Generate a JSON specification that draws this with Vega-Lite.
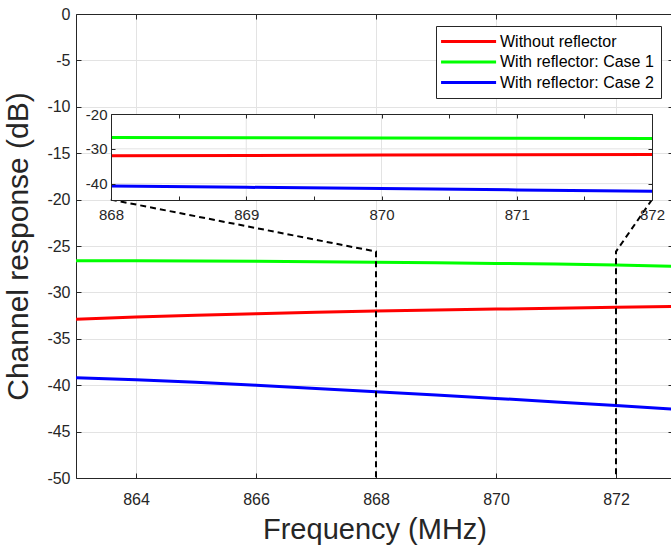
{
  "$schema": "https://vega.github.io/schema/vega-lite/v6.json",
  "width": 597,
  "height": 464,
  "autosize": {"type": "none"},
  "padding": {"left": 76, "top": 14, "right": 0, "bottom": 70},
  "background": "white",
  "datasets": {
    "main": [
      {"s": "Without reflector", "f": 863, "v": -32.9},
      {"s": "Without reflector", "f": 864, "v": -32.65},
      {"s": "Without reflector", "f": 865, "v": -32.45},
      {"s": "Without reflector", "f": 866, "v": -32.3},
      {"s": "Without reflector", "f": 867, "v": -32.15},
      {"s": "Without reflector", "f": 868, "v": -32.0},
      {"s": "Without reflector", "f": 869, "v": -31.9},
      {"s": "Without reflector", "f": 870, "v": -31.8},
      {"s": "Without reflector", "f": 871, "v": -31.7},
      {"s": "Without reflector", "f": 872, "v": -31.6},
      {"s": "Without reflector", "f": 873, "v": -31.5},
      {"s": "With reflector: Case 1", "f": 863, "v": -26.6},
      {"s": "With reflector: Case 1", "f": 864, "v": -26.6},
      {"s": "With reflector: Case 1", "f": 865, "v": -26.62},
      {"s": "With reflector: Case 1", "f": 866, "v": -26.65},
      {"s": "With reflector: Case 1", "f": 867, "v": -26.7},
      {"s": "With reflector: Case 1", "f": 868, "v": -26.75},
      {"s": "With reflector: Case 1", "f": 869, "v": -26.8},
      {"s": "With reflector: Case 1", "f": 870, "v": -26.88},
      {"s": "With reflector: Case 1", "f": 871, "v": -26.95},
      {"s": "With reflector: Case 1", "f": 872, "v": -27.05},
      {"s": "With reflector: Case 1", "f": 873, "v": -27.2},
      {"s": "With reflector: Case 2", "f": 863, "v": -39.2},
      {"s": "With reflector: Case 2", "f": 864, "v": -39.42},
      {"s": "With reflector: Case 2", "f": 865, "v": -39.68},
      {"s": "With reflector: Case 2", "f": 866, "v": -40.0},
      {"s": "With reflector: Case 2", "f": 867, "v": -40.35},
      {"s": "With reflector: Case 2", "f": 868, "v": -40.7},
      {"s": "With reflector: Case 2", "f": 869, "v": -41.05},
      {"s": "With reflector: Case 2", "f": 870, "v": -41.42},
      {"s": "With reflector: Case 2", "f": 871, "v": -41.8},
      {"s": "With reflector: Case 2", "f": 872, "v": -42.2},
      {"s": "With reflector: Case 2", "f": 873, "v": -42.6}
    ],
    "conn": [
      {"g": "L", "k": 1, "f": 863.58, "v": -20},
      {"g": "L", "k": 2, "f": 868, "v": -25.6},
      {"g": "L", "k": 3, "f": 868, "v": -50},
      {"g": "R", "k": 1, "f": 872.6, "v": -20},
      {"g": "R", "k": 2, "f": 872, "v": -25.6},
      {"g": "R", "k": 3, "f": 872, "v": -50}
    ],
    "igx": [{"gx": 869}, {"gx": 870}, {"gx": 871}],
    "igy": [{"gy": -30}, {"gy": -40}]
  },
  "config": {
    "view": {"stroke": null},
    "font": "Liberation Sans",
    "axis": {
      "labelFont": "Liberation Sans",
      "titleFont": "Liberation Sans",
      "labelColor": "#262626",
      "titleColor": "#262626",
      "domainColor": "#262626",
      "tickColor": "#262626",
      "titleFontWeight": "normal",
      "labelFlush": false,
      "labelOverlap": false,
      "gridColor": "#e3e3e3",
      "gridOpacity": 1
    }
  },
  "resolve": {
    "scale": {"x": "independent", "y": "independent"},
    "axis": {"x": "independent", "y": "independent"}
  },
  "layer": [
    {
      "resolve": {"axis": {"x": "independent", "y": "independent"}},
      "layer": [
        {
          "data": {"name": "main"},
          "mark": {"type": "line", "strokeWidth": 3, "clip": true},
          "encoding": {
            "x": {
              "field": "f", "type": "quantitative",
              "scale": {"domain": [863, 872.95], "nice": false, "zero": false},
              "axis": {
                "orient": "bottom", "values": [864, 866, 868, 870, 872],
                "title": "Frequency (MHz)", "titleFontSize": 29, "titlePadding": 8,
                "labelFontSize": 16, "tickSize": -5, "labelPadding": 18,
                "grid": true, "labelExpr": "replace(datum.label, '\u2212', '-')"
              }
            },
            "y": {
              "field": "v", "type": "quantitative",
              "scale": {"domain": [-50, 0], "nice": false, "zero": false},
              "axis": {
                "orient": "left", "values": [-50, -45, -40, -35, -30, -25, -20, -15, -10, -5, 0],
                "title": "Channel response (dB)", "titleFontSize": 30, "titlePadding": 13,
                "labelFontSize": 16, "tickSize": -5, "labelPadding": 11,
                "grid": true, "labelExpr": "replace(datum.label, '\u2212', '-')"
              }
            },
            "color": {
              "field": "s", "type": "nominal",
              "scale": {
                "domain": ["Without reflector", "With reflector: Case 1", "With reflector: Case 2"],
                "range": ["#ff0000", "#00ff00", "#0000ff"]
              },
              "legend": {
                "orient": "top-right", "offset": 12, "title": null,
                "strokeColor": "#262626", "fillColor": "white", "padding": 7,
                "symbolType": "M-1.49,0H6.37", "symbolSize": 196, "symbolStrokeWidth": 3,
                "symbolFillColor": "transparent",
                "labelFontSize": 16, "labelFont": "Liberation Sans", "labelColor": "#000000",
                "labelOffset": 40, "rowPadding": 3.5, "labelLimit": 300
              }
            }
          }
        },
        {
          "data": {"name": "conn"},
          "mark": {"type": "line", "color": "#000000", "strokeWidth": 2, "strokeDash": [6, 4]},
          "encoding": {
            "x": {"field": "f", "type": "quantitative", "scale": {"domain": [863, 872.95], "nice": false, "zero": false}, "axis": null},
            "y": {"field": "v", "type": "quantitative", "scale": {"domain": [-50, 0], "nice": false, "zero": false}, "axis": null},
            "detail": {"field": "g"},
            "order": {"field": "k", "type": "quantitative"}
          }
        },
        {
          "data": {"name": "main"},
          "mark": {"type": "point", "opacity": 0, "clip": true},
          "encoding": {
            "x": {
              "field": "f", "type": "quantitative",
              "scale": {"domain": [863, 872.95], "nice": false, "zero": false},
              "axis": {"orient": "top", "values": [864, 866, 868, 870, 872], "labels": false, "tickSize": -5, "grid": false, "title": null}
            },
            "y": {
              "field": "v", "type": "quantitative",
              "scale": {"domain": [-50, 0], "nice": false, "zero": false},
              "axis": {"orient": "right", "values": [-50, -45, -40, -35, -30, -25, -20, -15, -10, -5, 0], "labels": false, "tickSize": -5, "grid": false, "title": null}
            }
          }
        }
      ]
    },
    {
      "resolve": {"axis": {"x": "independent", "y": "independent"}},
      "layer": [
        {
          "data": {"values": [{}]},
          "mark": {"type": "rect", "fill": "white"},
          "encoding": {
            "x": {"datum": 868, "type": "quantitative", "scale": {"domain": [868, 872], "range": [35, 576], "nice": false, "zero": false}, "axis": null},
            "x2": {"datum": 872},
            "y": {"datum": -44.7, "type": "quantitative", "scale": {"domain": [-44.7, -20], "range": [186, 100], "nice": false, "zero": false}, "axis": null},
            "y2": {"datum": -20}
          }
        },
        {
          "data": {"name": "igx"},
          "mark": {"type": "rule", "color": "#e3e3e3", "strokeWidth": 1},
          "encoding": {
            "x": {"field": "gx", "type": "quantitative", "scale": {"domain": [868, 872], "range": [35, 576], "nice": false, "zero": false}, "axis": null},
            "y": {"datum": -44.7, "type": "quantitative", "scale": {"domain": [-44.7, -20], "range": [186, 100], "nice": false, "zero": false}, "axis": null},
            "y2": {"datum": -20}
          }
        },
        {
          "data": {"name": "igy"},
          "mark": {"type": "rule", "color": "#e3e3e3", "strokeWidth": 1},
          "encoding": {
            "x": {"datum": 868, "type": "quantitative", "scale": {"domain": [868, 872], "range": [35, 576], "nice": false, "zero": false}, "axis": null},
            "x2": {"datum": 872},
            "y": {"field": "gy", "type": "quantitative", "scale": {"domain": [-44.7, -20], "range": [186, 100], "nice": false, "zero": false}, "axis": null}
          }
        },
        {
          "data": {"name": "main"},
          "transform": [{"filter": "datum.f >= 868 && datum.f <= 872"}],
          "mark": {"type": "line", "strokeWidth": 3},
          "encoding": {
            "x": {
              "field": "f", "type": "quantitative",
              "scale": {"domain": [868, 872], "range": [35, 576], "nice": false, "zero": false},
              "axis": {
                "orient": "bottom", "offset": -278,
                "values": [868, 868.5, 869, 869.5, 870, 870.5, 871, 871.5, 872],
                "labelExpr": "datum.value % 1 === 0 ? format(datum.value, '.0f') : ''",
                "tickSize": -4, "labelPadding": 11, "labelFontSize": 15,
                "grid": false, "title": null, "zindex": 1
              }
            },
            "y": {
              "field": "v", "type": "quantitative",
              "scale": {"domain": [-44.7, -20], "range": [186, 100], "nice": false, "zero": false},
              "axis": {
                "orient": "left", "offset": -35, "values": [-40, -30, -20],
                "labelExpr": "replace(datum.label, '\u2212', '-')",
                "tickSize": -4, "labelPadding": 8, "labelFontSize": 15,
                "grid": false, "title": null, "zindex": 1
              }
            },
            "color": {
              "field": "s", "type": "nominal",
              "scale": {
                "domain": ["Without reflector", "With reflector: Case 1", "With reflector: Case 2"],
                "range": ["#ff0000", "#00ff00", "#0000ff"]
              }
            }
          }
        },
        {
          "data": {"name": "main"},
          "transform": [{"filter": "datum.f >= 868 && datum.f <= 872"}],
          "mark": {"type": "point", "opacity": 0},
          "encoding": {
            "x": {
              "field": "f", "type": "quantitative",
              "scale": {"domain": [868, 872], "range": [35, 576], "nice": false, "zero": false},
              "axis": {
                "orient": "top", "offset": -100,
                "values": [868, 868.5, 869, 869.5, 870, 870.5, 871, 871.5, 872],
                "labels": false, "tickSize": -4, "grid": false, "title": null, "zindex": 1
              }
            },
            "y": {
              "field": "v", "type": "quantitative",
              "scale": {"domain": [-44.7, -20], "range": [186, 100], "nice": false, "zero": false},
              "axis": {
                "orient": "right", "offset": -21, "values": [-40, -30, -20],
                "labels": false, "tickSize": -4, "grid": false, "title": null, "zindex": 1
              }
            }
          }
        }
      ]
    }
  ]
}
